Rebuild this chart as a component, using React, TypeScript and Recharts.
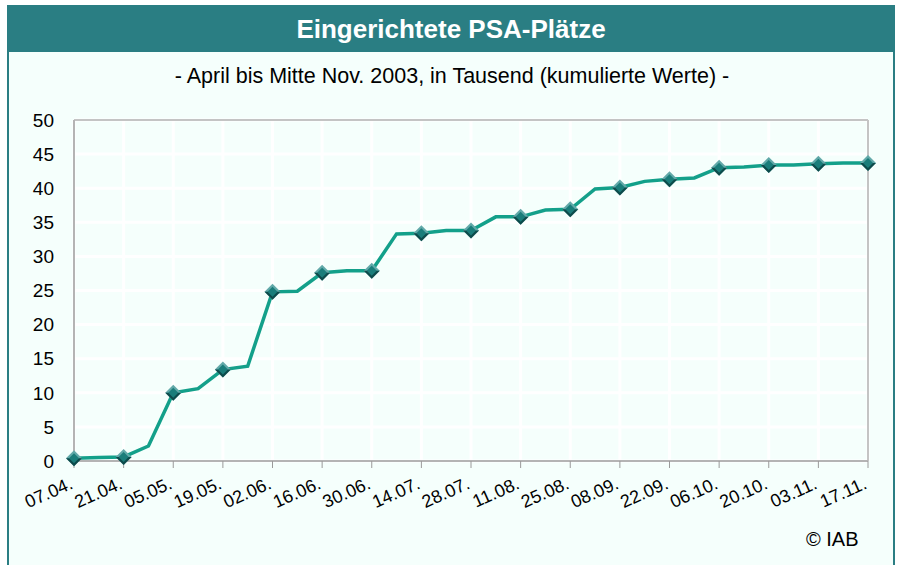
import { LineChart, Line, XAxis, YAxis, CartesianGrid, ReferenceLine } from "recharts";

const weeks = [
  "07.04.", "14.04.", "21.04.", "28.04.", "05.05.", "12.05.", "19.05.", "26.05.",
  "02.06.", "09.06.", "16.06.", "23.06.", "30.06.", "07.07.", "14.07.", "21.07.",
  "28.07.", "04.08.", "11.08.", "18.08.", "25.08.", "01.09.", "08.09.", "15.09.",
  "22.09.", "29.09.", "06.10.", "13.10.", "20.10.", "27.10.", "03.11.", "10.11.", "17.11.",
];

const plaetze = [
  0.4, 0.5, 0.6, 2.2, 10.0, 10.6, 13.4, 13.9,
  24.8, 24.9, 27.6, 27.9, 27.9, 33.3, 33.4, 33.8,
  33.8, 35.8, 35.8, 36.8, 36.9, 39.9, 40.1, 41.0,
  41.3, 41.5, 43.0, 43.1, 43.4, 43.4, 43.6, 43.7, 43.7,
];

const yTicks = [0, 5, 10, 15, 20, 25, 30, 35, 40, 45, 50];

const data = weeks.map((w, i) => ({ idx: i, label: w, value: plaetze[i] }));
const xTicks = weeks.map((_, i) => i).filter((i) => i % 2 === 0);

const font = "'Liberation Sans', Arial, sans-serif";
const teal = "#2a7e83";

const DiamondDot = (props: any) => {
  const { cx, cy, index } = props;
  if (index % 2 !== 0 || cx == null) return <g key={`d${index}`} />;
  const r = 8;
  return (
    <g key={`d${index}`}>
      <polygon points={`${cx},${cy - r} ${cx + r},${cy} ${cx},${cy + r} ${cx - r},${cy}`} fill="#62a9a9" />
      <polygon points={`${cx + r},${cy} ${cx},${cy + r} ${cx - r},${cy}`} fill="#0d4b4b" />
      <polygon points={`${cx},${cy - r + 3} ${cx + r - 3},${cy} ${cx},${cy + r - 3} ${cx - r + 3},${cy}`} fill="#1a7d7a" />
    </g>
  );
};

const XTick = (props: any) => {
  const { x, y, payload } = props;
  const tx = x;
  const ty = y + 18;
  return (
    <text
      x={tx}
      y={ty}
      textAnchor="end"
      transform={`rotate(-24, ${tx}, ${ty})`}
      fontSize={18}
      fontFamily={font}
      fill="#000"
    >
      {weeks[payload.value]}
    </text>
  );
};

export default function App() {
  return (
    <div style={{ position: "absolute", left: 0, top: 0, width: 898, height: 565, overflow: "hidden", background: "#fff" }}>
      <div
        style={{
          position: "absolute",
          left: 7,
          top: 5,
          width: 884,
          height: 580,
          border: `2px solid ${teal}`,
          background: "#f5fffc",
        }}
      />
      <div
        style={{
          position: "absolute",
          left: 7,
          top: 5,
          width: 888,
          height: 47,
          background: teal,
          color: "#fff",
          fontFamily: font,
          fontWeight: "bold",
          fontSize: 26,
          lineHeight: "49px",
          textAlign: "center",
        }}
      >
        Eingerichtete PSA-Plätze
      </div>
      <div
        style={{
          position: "absolute",
          left: 7,
          top: 64,
          width: 890,
          textAlign: "center",
          fontFamily: font,
          fontSize: 21.5,
          color: "#000",
        }}
      >
        - April bis Mitte Nov. 2003, in Tausend (kumulierte Werte) -
      </div>
      <div style={{ position: "absolute", left: 0, top: 0 }}>
        <LineChart
          width={898}
          height={565}
          data={data}
          margin={{ top: 120, right: 30, bottom: 44, left: 24 }}
        >
          <CartesianGrid stroke="#ffffff" strokeWidth={3} />
          <XAxis
            dataKey="idx"
            type="number"
            domain={[0, weeks.length - 1]}
            ticks={xTicks}
            interval={0}
            height={60}
            tick={<XTick />}
            tickSize={7}
            axisLine={{ stroke: "#b4b4b4", strokeWidth: 2 }}
            tickLine={{ stroke: "#9a9a9a" }}
          />
          <YAxis
            domain={[0, 50]}
            ticks={yTicks}
            interval={0}
            width={50}
            tickLine={false}
            axisLine={{ stroke: "#b4b4b4", strokeWidth: 2 }}
            tick={{ fontSize: 19, fontFamily: font, fill: "#000" }}
            tickMargin={14}
          />
          <ReferenceLine y={50} stroke="#c4c4c4" strokeWidth={2} />
          <ReferenceLine x={weeks.length - 1} stroke="#c4c4c4" strokeWidth={2} />
          <Line
            type="linear"
            dataKey="value"
            stroke="#13a08a"
            strokeWidth={3.5}
            dot={<DiamondDot />}
            activeDot={false}
            isAnimationActive={false}
          />
        </LineChart>
      </div>
      <div
        style={{
          position: "absolute",
          left: 806,
          top: 528,
          fontFamily: font,
          fontSize: 20,
          color: "#000",
        }}
      >
        © IAB
      </div>
    </div>
  );
}
